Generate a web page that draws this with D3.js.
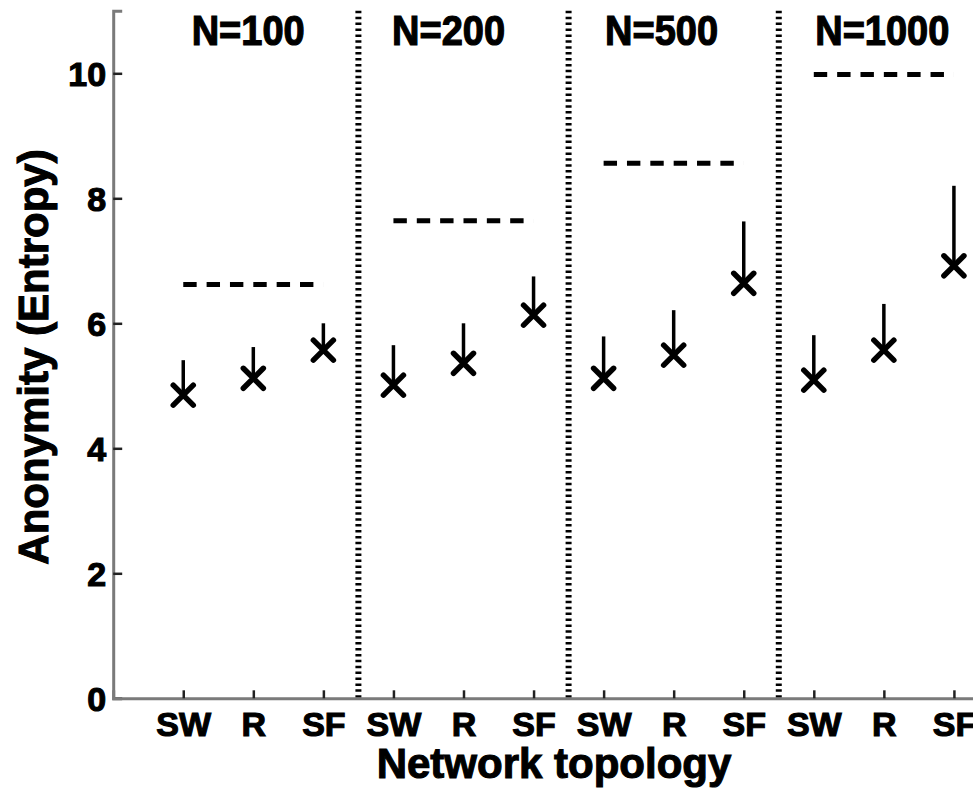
<!DOCTYPE html>
<html>
<head>
<meta charset="utf-8">
<script src="https://cdn.jsdelivr.net/npm/d3@7"></script>
<style>
	html, body { margin: 0; padding: 0; background: #fff; overflow: hidden; }
	svg text { font-family: 'Liberation Sans', Arial, Helvetica, sans-serif; font-weight: bold; fill: #000; stroke: #000; stroke-width: 1.1px; }
</style>
</head>
<body>
<div id="chart"></div>
<script>
// network sizes (one panel each) and topologies inside a panel
const groups = ['N=100', 'N=200', 'N=500', 'N=1000'];
const topologies = ['SW', 'R', 'SF'];

// mean anonymity (marker) and upper value (end of the vertical line)
const meanEntropy = [
	[4.85, 5.12, 5.57],
	[5.01, 5.36, 6.13],
	[5.12, 5.49, 6.64],
	[5.09, 5.57, 6.92]
];
const upperEntropy = [
	[5.41, 5.62, 6.00],
	[5.65, 6.00, 6.75],
	[5.79, 6.21, 7.63],
	[5.81, 6.31, 8.20]
];
// maximum entropy per network size (dashed line)
const maxEntropy = [6.62, 7.64, 8.56, 9.98];
// where each panel title starts, in x units
const titleX = [1.12, 3.98, 7.02, 10.02];

const yTicks = [0, 2, 4, 6, 8, 10];

(() => {
	const width = 973;
	const height = 791;

	const svg = d3.select('#chart').append('svg')
		.attr('width', width)
		.attr('height', height);

	const x = d3.scaleLinear()
		.domain([0, 12.5])
		.range([113.2, 113.2 + 12.5 * 70.06]);
	const y = d3.scaleLinear()
		.domain([0, 11])
		.range([698.3, 10.8]);

	// flatten the data: one point per (group, topology)
	const points = [];
	groups.forEach((g, gi) => {
		topologies.forEach((t, ti) => {
			points.push({ pos: gi * 3 + ti + 1, label: t, mean: meanEntropy[gi][ti], upper: upperEntropy[gi][ti] });
		});
	});

	// separators between panels
	svg.selectAll('.sep')
		.data(groups.slice(1))
		.enter().append('line')
			.attr('class', 'sep')
			.attr('x1', (d, i) => x((i + 1) * 3 + 0.5))
			.attr('x2', (d, i) => x((i + 1) * 3 + 0.5))
			.attr('y1', y(11))
			.attr('y2', y(0))
			.attr('stroke', '#000')
			.attr('stroke-width', 6)
			.attr('stroke-dasharray', '2.5 3.4');

	// axes
	const yAxis = d3.axisLeft(y)
		.tickValues(yTicks)
		.tickSize(-9)
		.tickPadding(7)
		.tickFormat(d3.format('d'));
	const yAxisG = svg.append('g')
		.attr('transform', `translate(${x(0)}, 0)`)
		.call(yAxis);

	const xAxis = d3.axisBottom(x)
		.tickValues(points.map(d => d.pos))
		.tickSize(-8)
		.tickPadding(14)
		.tickFormat((d, i) => points[i].label);
	const xAxisG = svg.append('g')
		.attr('transform', `translate(0, ${y(0)})`)
		.call(xAxis);

	[yAxisG, xAxisG].forEach(g => {
		g.select('.domain')
			.attr('stroke', '#7a7a7a')
			.attr('stroke-width', 3);
		g.selectAll('.tick line')
			.attr('stroke', '#222')
			.attr('stroke-width', 2.5);
		g.selectAll('.tick text')
			.attr('font-size', 34)
			.attr('fill', '#000');
	});
	yAxisG.selectAll('.tick text').attr('dy', '0.36em');
	xAxisG.selectAll('.tick text').attr('dy', '0.71em');

	// max entropy dashed lines
	svg.selectAll('.max-line')
		.data(maxEntropy)
		.enter().append('line')
			.attr('class', 'max-line')
			.attr('x1', (d, i) => x(i * 3 + 1))
			.attr('x2', (d, i) => x(i * 3 + 3))
			.attr('y1', d => y(d))
			.attr('y2', d => y(d))
			.attr('stroke', '#000')
			.attr('stroke-width', 5)
			.attr('stroke-dasharray', '13.4 9.95');

	// vertical lines from mean up to upper value
	svg.selectAll('.range-line')
		.data(points)
		.enter().append('line')
			.attr('class', 'range-line')
			.attr('x1', d => x(d.pos))
			.attr('x2', d => x(d.pos))
			.attr('y1', d => y(d.upper))
			.attr('y2', d => y(d.mean))
			.attr('stroke', '#000')
			.attr('stroke-width', 3.5);

	// x markers at the mean
	const s = 10;
	svg.selectAll('.marker')
		.data(points)
		.enter().append('path')
			.attr('class', 'marker')
			.attr('transform', d => `translate(${x(d.pos)}, ${y(d.mean)})`)
			.attr('d', `M${-s},${-s}L${s},${s}M${-s},${s}L${s},${-s}`)
			.attr('stroke', '#000')
			.attr('stroke-width', 5.5)
			.attr('stroke-linecap', 'round');

	// panel titles
	svg.selectAll('.panel-title')
		.data(groups)
		.enter().append('text')
			.attr('class', 'panel-title')
			.attr('transform', (d, i) => `translate(${x(titleX[i])}, 45) scale(1, 1.1)`)
			.attr('font-size', 38)
			.text(d => d);

	// axis labels
	svg.append('text')
		.attr('x', 554)
		.attr('y', 778)
		.attr('text-anchor', 'middle')
		.attr('font-size', 42)
		.text('Network topology');
	svg.append('text')
		.attr('transform', 'translate(48, 357) rotate(-90)')
		.attr('text-anchor', 'middle')
		.attr('font-size', 42)
		.text('Anonymity (Entropy)');
})();
</script>
</body>
</html>
